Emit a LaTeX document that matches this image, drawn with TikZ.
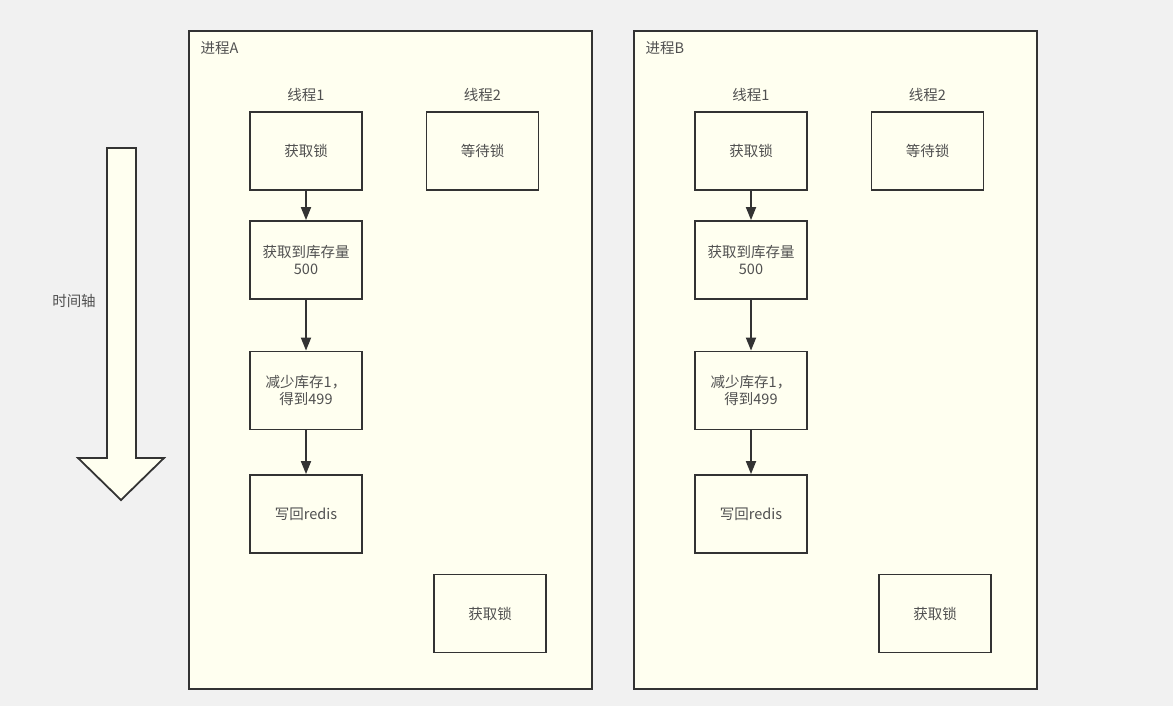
\documentclass[tikz,border=0pt]{standalone}
\usepackage{fontspec}
\setmainfont{Noto Sans CJK SC}
\usetikzlibrary{arrows.meta}
\definecolor{paper}{HTML}{F1F1F1}
\definecolor{note}{HTML}{FFFFF0}
\definecolor{ink}{HTML}{333333}
\definecolor{txt}{HTML}{505050}
\begin{document}
\begin{tikzpicture}[x=1pt, y=-1pt, font=\fontsize{14.5}{17}\selectfont, text=txt,
	box/.style={draw=ink, fill=note, line width=1.8pt, minimum width=112pt, minimum height=78pt, align=center, inner sep=0pt},
	frame/.style={draw=ink, fill=note, line width=1.8pt, minimum width=403pt, minimum height=658pt, inner sep=0pt},
	flow/.style={draw=ink, line width=1.8pt, -{Triangle[length=13pt, width=10pt]}}]
	\fill[paper] (0,0) rectangle (1173,706);
	\useasboundingbox (0,0) rectangle (1173,706);
	% time axis
	\filldraw[draw=ink, fill=note, line width=1.8pt] (107,148)--(136,148)--(136,458)--(164,458)--(121,500)--(78,458)--(107,458)--cycle;
	\node (axis) at (74,301) {时间轴};
	\foreach \p/\dx in {A/0,B/445}{
		\node[frame] (proc\p) at (390.5+\dx,360) {};
		\node[anchor=west] (name\p) at (197+\dx,48) {进程\p};
		\node (tOne\p) at (306+\dx,95) {线程1};
		\node (tTwo\p) at (482.5+\dx,95) {线程2};
		\node[box] (lock\p) at (306+\dx,151) {获取锁};
		\node[box] (wait\p) at (482.5+\dx,151) {等待锁};
		\node[box] (read\p) at (306+\dx,260) {获取到库存量\\500};
		\node[box] (dec\p) at (306+\dx,390.5) {减少库存1，\\ 得到499};
		\node[box] (save\p) at (306+\dx,514) {写回redis};
		\node[box] (relock\p) at (490+\dx,613.5) {获取锁};
		\draw[flow] (lock\p) -- (read\p);
		\draw[flow] (read\p) -- (dec\p);
		\draw[flow] (dec\p) -- (save\p);
	}
\end{tikzpicture}
\end{document}
